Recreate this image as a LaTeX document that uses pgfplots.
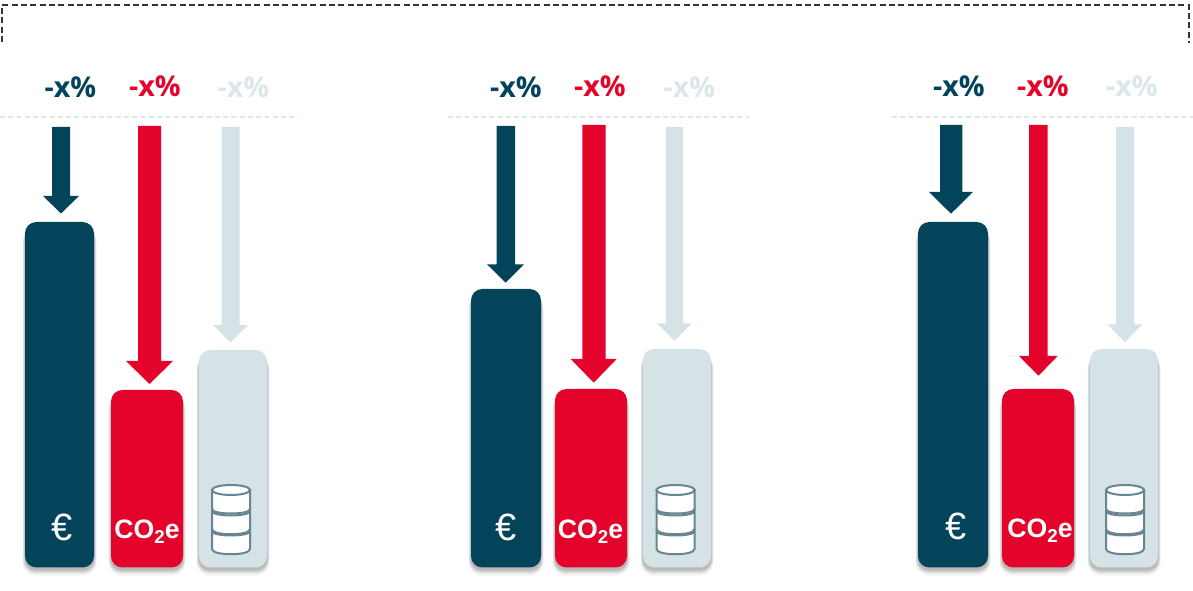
\documentclass[border=0pt]{standalone}
\usepackage{pgfplots}
\pgfplotsset{compat=1.18}
\usepackage{fontspec}
\setmainfont{Liberation Sans}
\newfontfamily\lblfont[BoldFont={Open Sans Bold}]{Open Sans}
\definecolor{cdark}{HTML}{03445A}
\definecolor{cred}{HTML}{E4032B}
\definecolor{clight}{HTML}{D5E3E7}
\definecolor{clighttxt}{HTML}{DBE8EA}
\definecolor{cdash}{HTML}{DDE8E9}
\definecolor{cbarrel}{HTML}{688692}
\newcommand\rbar[4]{%
  \addplot[ybar,bar shift=0pt,bar width=#2+4,fill=black,draw=none,opacity=.025,rounded corners=10pt,yshift=-6.6pt] coordinates {(#1,#3)};
  \addplot[ybar,bar shift=0pt,bar width=#2+5,fill=black,draw=none,opacity=.04,rounded corners=10pt,yshift=-5.4pt] coordinates {(#1,#3)};
  \addplot[ybar,bar shift=0pt,bar width=#2+4,fill=black,draw=none,opacity=.06,rounded corners=9.5pt,yshift=-4.4pt] coordinates {(#1,#3)};
  \addplot[ybar,bar shift=0pt,bar width=#2+2.5,fill=black,draw=none,opacity=.08,rounded corners=9pt,yshift=-3.4pt] coordinates {(#1,#3)};
  \addplot[ybar,bar shift=0pt,bar width=#2+1,fill=black,draw=none,opacity=.1,rounded corners=8.5pt,yshift=-2.4pt] coordinates {(#1,#3)};
  \addplot[ybar,bar shift=0pt,bar width=#2,fill=#4,draw=none,rounded corners=8.5pt] coordinates {(#1,#3)};
}
% colour, shaft left, shaft right, top, head left, head right, head y, tip x, tip y
\newcommand\arrowpoly[9]{%
  \addplot[fill=#1,draw=none] coordinates {(#2,#4) (#3,#4) (#3,#7) (#6,#7) (#8,#9) (#5,#7) (#2,#7) (#2,#4)} --cycle;
}
\newcommand\pct[3]{\node[anchor=base,inner sep=0pt,text=#3] at (axis cs:#1,#2) {\lblfont\bfseries\fontsize{21.5}{22}\selectfont -x\%};}
\newcommand\euro[2]{\node[inner sep=0pt,anchor=base,text=white] at (axis cs:#1,#2) {\fontsize{28.5}{29}\selectfont €};}
\newcommand\cotwo[2]{\node[inner sep=0pt,anchor=base,text=white] at (axis cs:#1,#2) {\bfseries\fontsize{20}{21}\selectfont CO\raisebox{-4pt}{\fontsize{14}{15}\selectfont 2}e};}
\newcommand\barrel[2]{%
 \begin{scope}[shift={(axis cs:#1,#2)},x=.75pt,y=-.75pt,line width=1.5pt,draw=cbarrel,fill=white]
  \filldraw (-19,41) .. controls (-19,47) and (19,47) .. (19,41) -- (19,59) .. controls (19,66) and (-19,66) .. (-19,59) -- cycle;
  \filldraw (-19,21) .. controls (-19,27) and (19,27) .. (19,21) -- (19,39) .. controls (19,46) and (-19,46) .. (-19,39) -- cycle;
  \filldraw (-19,0) -- (-19,19) .. controls (-19,25) and (19,25) .. (19,19) -- (19,0) -- cycle;
  \filldraw (0,0) ellipse [x radius=14.25pt,y radius=3.75pt];
 \end{scope}}
\begin{document}
\begin{tikzpicture}
\path[use as bounding box] (0,0) rectangle (894.75pt,443.25pt);
\begin{axis}[at={(0,0)},anchor=south west,scale only axis,width=894.75pt,height=443.25pt,
  hide axis,clip=false,xmin=0,xmax=1193,ymin=-23.5,ymax=567.5]
% dashed frame
\addplot[draw=black!80,line width=.8pt,dash pattern=on 4.5pt off 2.5pt] coordinates {(2,525.5) (2,562.5) (1189,562.5) (1189,524.5)};
% dashed rules
\addplot[draw=cdash,line width=1pt,dash pattern=on 3.7pt off 2.5pt] coordinates {(0,450.5) (299,450.5)};
\addplot[draw=cdash,line width=1pt,dash pattern=on 3.7pt off 2.5pt] coordinates {(448,450.5) (749,450.5)};
\addplot[draw=cdash,line width=1pt,dash pattern=on 3.7pt off 2.5pt] coordinates {(892,450.5) (1193,450.5)};
% bars
\rbar{59.5}{69}{345.5}{cdark}
\rbar{147}{72}{177.5}{cred}
\rbar{233}{68}{217.5}{clight}
\rbar{506}{70}{278.5}{cdark}
\rbar{591}{72}{178.5}{cred}
\rbar{677}{68}{218.5}{clight}
\rbar{953}{70}{345.5}{cdark}
\rbar{1038}{72}{178.5}{cred}
\rbar{1124}{68}{218.5}{clight}
% arrows
\arrowpoly{cdark}{52}{70}{440.5}{43}{79}{371.5}{61}{354}
\arrowpoly{cred}{138}{161}{441.5}{126}{173}{206.5}{149.5}{183.5}
\arrowpoly{clight}{221.5}{239.5}{440.5}{213}{248}{242.5}{230.5}{225}
\arrowpoly{cdark}{496.7}{515}{441.5}{487}{524}{303.2}{505.7}{284.8}
\arrowpoly{cred}{582.3}{605.7}{442.5}{570.7}{616.7}{208.5}{593.7}{184.8}
\arrowpoly{clight}{666}{683}{440.5}{657}{691.7}{244.2}{674.5}{226.5}
\arrowpoly{cdark}{940}{962.3}{442.5}{929}{973}{375.5}{951}{353.8}
\arrowpoly{cred}{1029}{1047.7}{442.5}{1019}{1057.7}{211.5}{1038.5}{191.8}
\arrowpoly{clight}{1116}{1134}{440.5}{1107.7}{1142.3}{243.2}{1125}{225.2}
% labels
\pct{70.5}{470}{cdark}\pct{155}{471}{cred}\pct{243.5}{470}{clighttxt}
\pct{516}{470}{cdark}\pct{600}{471}{cred}\pct{689.5}{470}{clighttxt}
\pct{959}{471}{cdark}\pct{1043}{471}{cred}\pct{1132}{471}{clighttxt}
\euro{62}{26.5}\euro{506}{26.5}\euro{956}{27.5}
\cotwo{147}{29}\cotwo{590.5}{29}\cotwo{1040}{30}
\barrel{231}{77.5}\barrel{675.5}{77.5}\barrel{1125}{77.5}
\end{axis}
\end{tikzpicture}
\end{document}
